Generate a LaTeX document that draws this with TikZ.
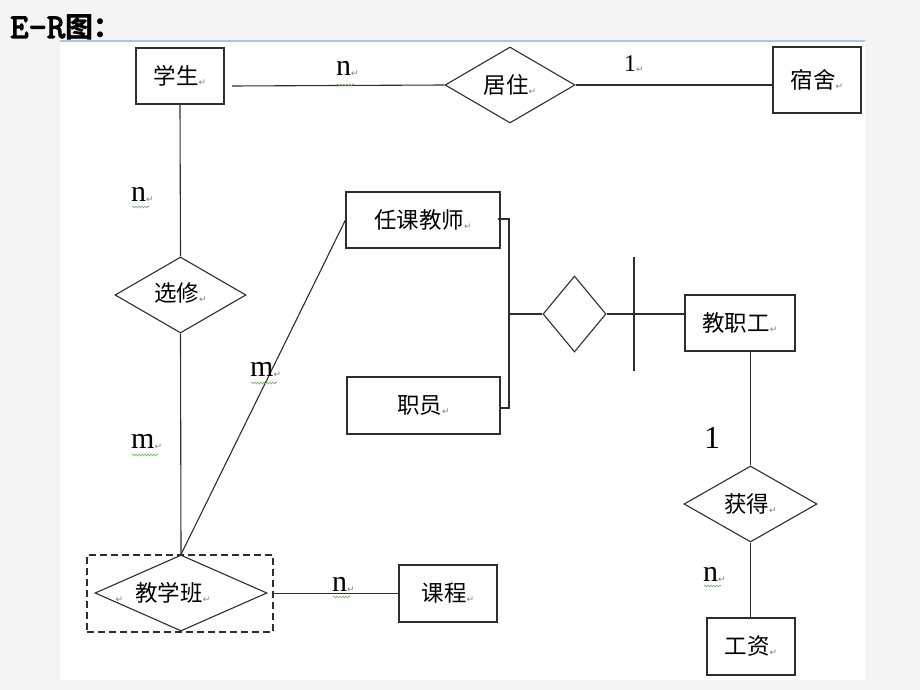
\documentclass[tikz,border=0pt]{standalone}
\usepackage{fontspec}
\setmainfont{Liberation Serif}
\newfontfamily\cjk{Noto Sans CJK SC}
\newfontfamily\symf{DejaVu Sans}
\newfontfamily\monof[Extension=.otf, FakeBold=3]{lmmono10-regular}
\usetikzlibrary{shapes.geometric,decorations.pathmorphing}
\definecolor{bggray}{HTML}{F4F4F4}
\definecolor{lineblue}{HTML}{A9C4E6}
\definecolor{ink}{HTML}{2E2E2E}
\definecolor{wavy}{HTML}{6BB36B}
\newcommand{\retmk}{{\symf\fontsize{9}{9}\selectfont\color{gray}\raisebox{-1pt}{↵}}}
\tikzset{
  entity/.style={draw=ink, line width=1.1pt, fill=white, inner sep=0pt,
    font=\cjk\fontsize{22.5}{26}\selectfont},
  rel/.style={draw=ink, line width=1.1pt, diamond, inner sep=0pt, aspect=1.7,
    font=\cjk\fontsize{22.5}{26}\selectfont},
  conn/.style={draw=ink, line width=1.1pt},
  card/.style={font=\fontsize{30}{30}\selectfont, inner sep=0pt},
  wv/.style={draw=wavy, line width=0.6pt, decorate,
    decoration={snake, segment length=3pt, amplitude=0.9pt}}
}
\begin{document}
\begin{tikzpicture}[x=1pt,y=-1pt]
\useasboundingbox (0,0) rectangle (920,690);
\fill[bggray] (0,0) rectangle (920,690);
\fill[white] (60,41) rectangle (865,680);
\draw[lineblue, line width=1.6pt] (60,41) -- (865,41);
\node[anchor=base west, inner sep=0pt] (title) at (10,38)
  {{\monof\fontsize{35}{35}\selectfont E-R}{\cjk\bfseries\fontsize{28}{28}\selectfont 图：}};

% entities
\node[entity, minimum width=88pt, minimum height=56pt] (xs) at (180,76) {学生\retmk};
\node[entity, minimum width=88pt, minimum height=66pt] (ss) at (817,80) {宿舍\retmk};
\node[entity, minimum width=154pt, minimum height=56pt] (rk) at (423,220) {任课教师\retmk};
\node[entity, minimum width=153pt, minimum height=57pt] (zy) at (423.5,405.5) {职员\retmk};
\node[entity, minimum width=110pt, minimum height=56pt] (jzg) at (740,323) {教职工\retmk};
\node[entity, minimum width=88pt, minimum height=57pt] (gz) at (751,646.5) {工资\retmk};
\node[entity, minimum width=98pt, minimum height=57pt] (kc) at (448,593.5) {课程\retmk};

% relationships
\node[rel, minimum width=130pt, minimum height=76pt] (jz) at (510,85) {\raisebox{-5pt}{居住\retmk}};
\node[rel, minimum width=131pt, minimum height=76pt] (xx) at (180.5,295) {\raisebox{6pt}{选修\retmk}};
\node[rel, minimum width=63pt, minimum height=76pt, aspect=0.83] (blank) at (574.5,314) {};
\node[rel, minimum width=133pt, minimum height=76pt] (hd) at (750.5,504) {\raisebox{-6pt}{获得\retmk}};
\node[draw=ink, line width=1.4pt, dash pattern=on 7pt off 4pt, minimum width=186pt, minimum height=77pt, inner sep=0pt] (tbox) at (180,593.5) {};
\node[rel, minimum width=172pt, minimum height=76pt] (jxb) at (181,593) {\hspace{-36pt}\retmk\hspace{12pt}教学班\retmk};

% connectors
\coordinate (s1) at (232,86);
\draw[conn] (s1) -- (jz.west);
\draw[conn] (jz.east) -- (jz.east -| ss.west);
\draw[conn] (xs.south) -- (xx.north);
\draw[conn] (xx.south) -- (jxb.north);
\draw[conn] (jxb.north) -- (rk.west);
\draw[conn] (tbox.east) -- (tbox.east -| kc.west);
\coordinate (bt) at (509,219);
\coordinate (bb) at (509,408);
\coordinate (bm) at (509,314);
\draw[conn] ([xshift=-3pt]rk.east |- bt) -- (bt) -- (bb) -- (zy.east |- bb);
\draw[conn] (bm) -- (blank.west);
\draw[conn] (blank.east) -- (blank.east -| jzg.west);
\coordinate (vb1) at (634,257);
\coordinate (vb2) at (634,371);
\draw[conn] (vb1) -- (vb2);
\draw[conn] (hd.north |- jzg.south) -- (hd.north);
\draw[conn] (hd.south) -- (hd.south |- gz.north);

% cardinalities
\node[card, anchor=base west] (c1) at (336,76) {n\retmk};
\node[card, anchor=base west, font=\fontsize{24}{24}\selectfont] (c2) at (624,72) {1\retmk};
\node[card, anchor=base west] (c3) at (131,201) {n\retmk};
\node[card, anchor=base west] (c4) at (131,448) {m\retmk};
\node[card, anchor=base west] (c5) at (250,376) {m\retmk};
\node[card, anchor=base west] (c6) at (332,591) {n\retmk};
\node[card, anchor=base west, font=\fontsize{32}{32}\selectfont] (c7) at (704,448) {1};
\node[card, anchor=base west] (c8) at (703,581) {n\retmk};
\draw[wv] (337,85) -- (354,85);
\draw[wv] (132,207) -- (149,207);
\draw[wv] (132,455) -- (158,455);
\draw[wv] (251,383) -- (277,383);
\draw[wv] (333,597) -- (350,597);
\draw[wv] (704,586) -- (721,586);
\end{tikzpicture}
\end{document}
